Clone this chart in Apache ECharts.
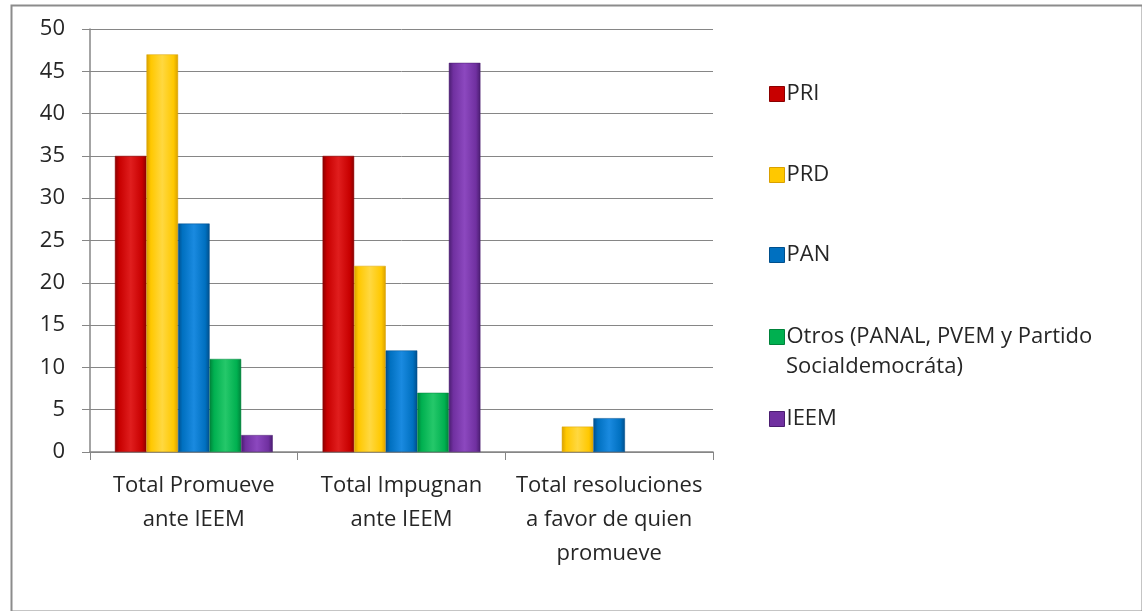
<!DOCTYPE html>
<html><head><meta charset="utf-8">
<script src="https://cdn.jsdelivr.net/npm/echarts@6/dist/echarts.min.js"></script>
<style>html,body{margin:0;padding:0;background:#fff}#c{width:1142px;height:611px}</style>
</head><body><div id="c"></div>
<script>
const categories = ['Total Promueve\nante IEEM', 'Total Impugnan\nante IEEM', 'Total resoluciones\na favor de quien\npromueve'];
const seriesNames = ['PRI', 'PRD', 'PAN', 'Otros (PANAL, PVEM y Partido Socialdemocráta)', 'IEEM'];
const PRI = [35, 35, null];
const PRD = [47, 22, 3];
const PAN = [27, 12, 4];
const Otros = [11, 7, null];
const IEEM = [2, 46, null];
const yTicks = [0, 5, 10, 15, 20, 25, 30, 35, 40, 45, 50];

const FONT = 'Open Sans';
const FS = 22;
const baseColors = [
  ['#8a0000', '#c80000', '#e01e1e'],
  ['#d9a000', '#ffc800', '#ffd840'],
  ['#004f8c', '#0070c0', '#1a8ae0'],
  ['#00823a', '#00b050', '#25c86a'],
  ['#4a1d70', '#7030a0', '#8c48bf']
];
function grad(c) {
  return new echarts.graphic.LinearGradient(0, 0, 1, 0, [
    {offset: 0, color: c[0]}, {offset: 0.14, color: c[1]},
    {offset: 0.5, color: c[2]}, {offset: 0.86, color: c[1]}, {offset: 1, color: c[0]}
  ]);
}
const dataArr = [PRI, PRD, PAN, Otros, IEEM];
const series = dataArr.map((d, i) => ({
  name: seriesNames[i], type: 'bar', data: d,
  barGap: '0%', barCategoryGap: '24%',
  itemStyle: {color: grad(baseColors[i]), borderColor: baseColors[i][0], borderWidth: 0.5},
  emphasis: {disabled: true}
}));
const legendCenters = [92, 173, 253, 335, 417];
const legends = seriesNames.map((n, i) => ({
  data: [{name: n, itemStyle: {color: baseColors[i][1], borderColor: baseColors[i][0], borderWidth: 1}}],
  left: 764, top: legendCenters[i] - 16, orient: 'vertical',
  itemWidth: 15, itemHeight: 15, icon: 'rect', itemGap: 0,
  formatter: i === 3 ? 'Otros (PANAL, PVEM y Partido' : '{name}',
  textStyle: {fontFamily: FONT, fontSize: FS, lineHeight: 26, color: '#262626', padding: [0, 0, 0, -3]},
  selectedMode: false
}));
const chart = echarts.init(document.getElementById('c'));
chart.setOption({
  animation: false,
  backgroundColor: '#fff',
  grid: {left: 90, right: 429, top: 29, bottom: 159, containLabel: false},
  legend: legends,
  graphic: [
    {type: 'rect', left: 9, top: 3, shape: {width: 1131, height: 606}, style: {fill: 'none', stroke: '#8c8c8c', lineWidth: 2}, z: 100},
    {type: 'text', left: 786, top: 356, style: {text: 'Socialdemocráta)', fontFamily: FONT, fontSize: FS, fill: '#262626'}}
  ],
  xAxis: {
    type: 'category', data: categories,
    axisLine: {lineStyle: {color: '#868686', width: 1.5}},
    axisTick: {show: true, length: 8, lineStyle: {color: '#868686'}},
    axisLabel: {fontFamily: FONT, fontSize: FS, color: '#262626', lineHeight: 34, margin: 17, interval: 0}
  },
  yAxis: {
    type: 'value', min: 0, max: 50, interval: 5,
    axisLine: {show: true, lineStyle: {color: '#868686', width: 1.5}},
    axisTick: {show: true, length: 8, lineStyle: {color: '#868686'}},
    splitLine: {lineStyle: {color: '#868686', width: 1}},
    axisLabel: {fontFamily: FONT, fontSize: FS, color: '#262626', margin: 25,
      formatter: v => yTicks.includes(v) ? String(v) : ''}
  },
  series: series
});
</script></body></html>
